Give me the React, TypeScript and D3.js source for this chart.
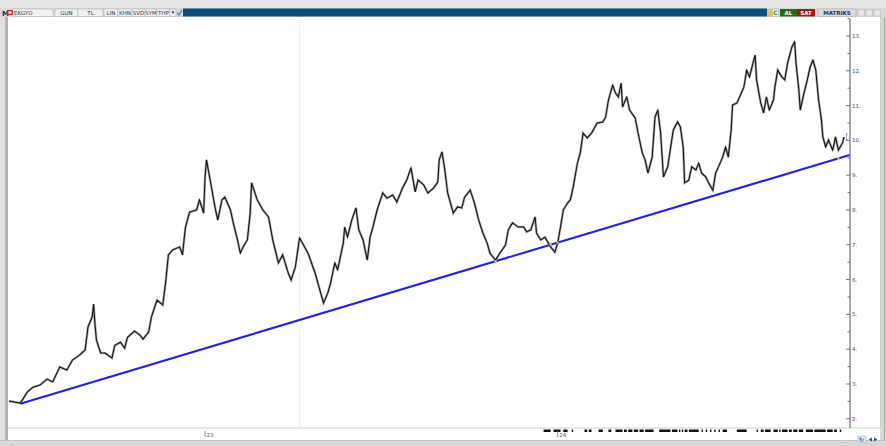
import React from "react";
import * as d3 from "d3";

// Trading-day index of each reading, and the close price
const days = [0, 8, 13, 17, 22, 27, 31, 36, 41, 45, 50, 54, 56, 59, 60, 61, 62, 65, 68, 73, 75, 79, 82, 84, 89, 93, 95, 99, 101, 105, 109, 111, 113, 116, 121, 123, 125, 128, 133, 135, 138, 139, 140, 143, 146, 148, 151, 153, 157, 159, 162, 164, 166, 169, 171, 172, 176, 180, 184, 187, 191, 194, 198, 200, 203, 206, 212, 217, 221, 223, 226, 228, 231, 233, 237, 238, 240, 243, 246, 248, 251, 254, 256, 258, 261, 265, 268, 272, 275, 279, 282, 285, 288, 290, 294, 297, 301, 304, 305, 307, 309, 311, 315, 318, 321, 323, 327, 330, 333, 336, 339, 341, 345, 348, 352, 354, 357, 361, 365, 367, 370, 373, 374, 377, 380, 384, 387, 389, 391, 393, 396, 398, 400, 403, 405, 407, 410, 413, 417, 421, 423, 425, 428, 430, 432, 434, 435, 438, 440, 444, 446, 449, 451, 453, 456, 458, 460, 462, 464, 467, 469, 471, 474, 476, 478, 479, 482, 484, 487, 489, 491, 494, 496, 499, 501, 503, 506, 508, 510, 512, 513, 516, 518, 521, 523, 525, 528, 529, 530, 533, 535, 537, 539, 542, 543, 545, 548, 550, 552, 555, 557, 558, 560, 561, 563, 566, 568, 570, 572, 574, 576, 577, 579, 581, 584, 586, 588, 591, 592];
const closes = [2.51, 2.45, 2.77, 2.91, 2.97, 3.14, 3.06, 3.49, 3.4, 3.69, 3.83, 3.98, 4.64, 4.93, 5.3, 4.7, 4.26, 3.89, 3.89, 3.75, 4.11, 4.2, 4.03, 4.34, 4.52, 4.4, 4.29, 4.49, 4.93, 5.41, 5.27, 5.9, 6.71, 6.85, 6.94, 6.71, 7.48, 7.94, 8.0, 8.29, 7.91, 8.95, 9.44, 8.78, 8.09, 7.71, 8.29, 8.37, 8.0, 7.63, 7.14, 6.76, 6.94, 7.14, 7.91, 8.78, 8.29, 8.0, 7.8, 7.14, 6.48, 6.71, 6.19, 5.99, 6.36, 7.2, 6.76, 6.19, 5.61, 5.33, 5.61, 5.9, 6.48, 6.28, 7.05, 7.51, 7.22, 7.71, 8.06, 7.43, 7.14, 6.56, 7.22, 7.51, 8.0, 8.49, 8.34, 8.43, 8.23, 8.63, 8.86, 9.21, 8.52, 8.86, 8.72, 8.49, 8.63, 8.8, 9.44, 9.67, 9.15, 8.49, 7.91, 8.09, 8.06, 8.37, 8.57, 8.2, 7.71, 7.34, 7.05, 6.76, 6.56, 6.76, 6.99, 7.43, 7.63, 7.51, 7.51, 7.37, 7.43, 7.8, 7.34, 7.14, 7.22, 6.94, 6.79, 7.05, 7.51, 8.0, 8.2, 8.29, 8.66, 9.35, 9.64, 10.21, 10.07, 10.21, 10.5, 10.53, 10.67, 11.16, 11.59, 11.36, 11.25, 11.65, 10.96, 11.25, 10.87, 10.64, 10.21, 9.64, 9.44, 9.06, 9.52, 10.67, 10.87, 10.21, 8.95, 9.24, 9.78, 10.3, 10.53, 10.39, 9.81, 8.78, 8.86, 9.24, 9.15, 9.35, 9.06, 8.95, 8.78, 8.57, 9.06, 9.24, 9.52, 9.81, 9.52, 10.3, 11.02, 11.07, 11.25, 11.53, 12.02, 11.82, 12.31, 12.45, 11.74, 11.07, 10.79, 11.25, 10.87, 11.16, 11.53, 12.02, 11.82, 11.74, 12.22, 12.68, 12.83, 12.22, 11.45, 10.87, 11.25, 11.74, 12.11, 12.31, 12.02, 11.16, 10.59, 10.1, 9.81, 10.01, 9.72, 10.1, 9.72, 9.93, 10.1];

const yTickValues = [2, 3, 4, 5, 6, 7, 8, 9, 10, 11, 12, 13];
const yMinorValues = [2.5, 3.5, 4.5, 5.5, 6.5, 7.5, 8.5, 9.5, 10.5, 11.5, 12.5, 13.5];
const xTickDays = [139, 389];
const xTickLabels = ["23", "24"];

const trendDays = [8, 596];
const trendValues = [2.43, 9.58];
const touchDays = [345, 384, 389, 588];

const cursorDay = 206;
const lastValue = 10.1;

const markerRanges: [number, number][] = [
  [379, 384], [386, 391], [393, 396], [399, 400], [408, 410], [411, 413], [418, 421], [425, 427],
  [430, 435], [436, 438], [439, 442], [443, 446], [447, 450], [451, 457], [461, 469], [470, 474],
  [475, 476], [477, 478], [479, 481], [482, 489], [491, 492], [494, 495], [497, 498], [500, 501],
  [503, 504], [506, 509], [516, 523], [530, 531], [533, 535], [536, 540], [542, 545], [546, 547],
  [548, 552], [553, 555], [556, 559], [560, 563], [565, 570], [571, 579], [580, 584], [585, 587],
  [589, 590],
];

const leftButtons = ["GUN", "TL", "LIN", "KHN", "SVD", "SYM", "THP"];
const symbolName = "EKGYO";

const W = 886;
const H = 446;

export default function App() {
  const x = d3.scaleLinear().domain([0, 592]).range([9, 844]);
  const y = d3.scaleLinear().domain([2, 13]).range([418.8, 36]);

  const pts = days.map((d, i) => ({ d, v: closes[i] }));
  const line = d3
    .line<{ d: number; v: number }>()
    .x((p) => x(p.d))
    .y((p) => y(p.v));
  const pricePath = line(pts) || "";

  const trendPath =
    d3
      .line<number>()
      .x((d) => x(d))
      .y((_, i) => y(trendValues[i]))(trendDays) || "";
  const trendScale = d3.scaleLinear().domain(trendDays).range(trendValues);

  const axisX = 850;
  const plotTop = 17;
  const plotBottom = 428;
  const font = "'DejaVu Sans', Arial, sans-serif";

  const btnX = [55, 78, 104, 118, 132, 145, 157];
  const btnW = [23, 25, 14, 14, 13, 12, 13];

  return (
    <div style={{ position: "absolute", left: 0, top: 0 }}>
      <svg width={W} height={H} style={{ display: "block" }} fontFamily={font}>
        <rect x={0} y={0} width={W} height={H} fill="#dcdcdc" />
        <rect x={0} y={0} width={W} height={8} fill="#e6e6e6" />
        <rect x={0} y={8} width={5} height={H - 8} fill="#e2e2e2" />
        <rect x={5} y={17} width={3} height={424} fill="#b4b4b4" />
        <rect x={8} y={plotTop} width={872} height={423} fill="#ffffff" />
        <line x1={8} x2={880} y1={plotBottom} y2={plotBottom} stroke="#b9dfb9" strokeWidth={1} />
        <line x1={880.5} x2={880.5} y1={plotTop} y2={plotBottom} stroke="#b9dfb9" strokeWidth={1} />
        <rect x={881} y={plotTop} width={5} height={H - plotTop} fill="#d6d6d6" />
        <line x1={884.5} x2={884.5} y1={8} y2={H} stroke="#a8a8a8" />
        <rect x={0} y={440} width={W} height={6} fill="#d8d8d8" />
        <line x1={0} x2={W} y1={440.5} y2={440.5} stroke="#c4c4c4" />
        <text x={10} y={445} fontSize={5} fill="#777">...</text>
        <text x={840} y={443} fontSize={5} fill="#999">..:..</text>
        <rect x={858} y={436} width={8} height={7} fill="#dfe7f3" stroke="#9aa" strokeWidth={0.5} />
        <text x={859} y={442} fontSize={6} fill="#2a5db0" fontWeight="bold">↻</text>
        <path d="M872,439.5 L868.5,437.5 L872,435.5 Z" fill="#2a4da0" transform="translate(0,2)" />
        <path d="M874,439.5 L877.5,437.5 L874,435.5 Z" fill="#2a4da0" transform="translate(0,2)" />

        <rect x={0} y={8} width={W} height={9} fill="#d9d9d9" />
        <text x={2} y={15.5} fontSize={7} fontWeight="bold" fill="#1c2a6a">M</text>
        <rect x={7} y={10} width={6} height={5} fill="#d32020" />
        <rect x={8.5} y={11.2} width={3} height={2.6} fill="#ffffff" />
        <rect x={13} y={9} width={40} height={7.5} fill="#f2f2f2" stroke="#a4a4a4" strokeWidth={0.5} />
        <text x={14} y={15} fontSize={5.5} fill="#333">{symbolName}</text>
        {leftButtons.map((b, i) => (
          <g key={b}>
            <rect x={btnX[i]} y={9} width={btnW[i]} height={7.5} fill="#f0f0f0" stroke="#a4a4a4" strokeWidth={0.5} />
            <text x={btnX[i] + btnW[i] / 2} y={15} fontSize={5.5} textAnchor="middle" fill="#333">{b}</text>
          </g>
        ))}
        <rect x={170} y={9} width={6} height={7.5} fill="#f0f0f0" stroke="#a4a4a4" strokeWidth={0.5} />
        <path d="M171.5,11.5 L174.5,11.5 L173,14 Z" fill="#333" />
        <path d="M177.5,13 L179,15 L182,10" stroke="#3a8ee0" strokeWidth={1.3} fill="none" />
        <rect x={183} y={8.5} width={584} height={8} fill="#0c4f7c" />
        <rect x={767} y={9} width={5} height={7.5} fill="#f0c040" />
        <rect x={772.5} y={9} width={6} height={7.5} fill="#f0f0f0" stroke="#a4a4a4" strokeWidth={0.5} />
        <text x={775.5} y={15} fontSize={6} textAnchor="middle" fontWeight="bold" fill="#2a8a2a">C</text>
        <rect x={780} y={9} width={17} height={7.5} fill="#1e6e1e" />
        <text x={788.5} y={15} fontSize={5.5} textAnchor="middle" fontWeight="bold" fill="#ffffff">AL</text>
        <rect x={797} y={9} width={18} height={7.5} fill="#a01818" />
        <text x={806} y={15} fontSize={5.5} textAnchor="middle" fontWeight="bold" fill="#ffffff">SAT</text>
        <rect x={818} y={9} width={38} height={7.5} fill="#dcdcdc" stroke="#a4a4a4" strokeWidth={0.5} />
        <text x={837} y={15} fontSize={5.5} textAnchor="middle" fontWeight="bold" fill="#24306e">MATRIKS</text>
        {[858, 866, 874].map((bx) => (
          <rect key={bx} x={bx} y={10} width={6.5} height={6} fill="#e8e8e8" stroke="#b0b0b0" strokeWidth={0.5} />
        ))}

        <line
          x1={x(cursorDay)}
          x2={x(cursorDay)}
          y1={plotTop + 1}
          y2={plotBottom}
          stroke="#f4ee9a"
          strokeWidth={1}
          strokeDasharray="1,1"
        />

        <path d={pricePath} fill="none" stroke="#a8a8a8" strokeWidth={2.4} strokeLinejoin="miter" strokeMiterlimit={3} />
        <path d={pricePath} fill="none" stroke="#111" strokeWidth={1.05} strokeLinejoin="miter" strokeMiterlimit={4} />

        <path d={trendPath} fill="none" stroke="#1a22ee" strokeWidth={2.1} />
        {touchDays.map((d) => (
          <rect key={d} x={x(d) - 1} y={y(trendScale(d)) - 1} width={2} height={2} fill="#f0e020" />
        ))}

        <line x1={axisX} x2={axisX} y1={plotTop + 2} y2={plotBottom} stroke="#555" strokeWidth={1} />
        {yMinorValues.map((v) => (
          <line key={v} x1={axisX - 2.5} x2={axisX} y1={y(v)} y2={y(v)} stroke="#555" strokeWidth={0.8} />
        ))}
        {yTickValues.map((v) => (
          <g key={v}>
            <line x1={axisX - 4} x2={axisX} y1={y(v)} y2={y(v)} stroke="#555" strokeWidth={0.8} />
            <text x={axisX + 2} y={y(v) + 2} fontSize={5.5} fill="#3a4a6a">{`${v}.`}</text>
          </g>
        ))}
        <path
          d={`M${axisX - 2},${y(lastValue) - 3} L${axisX - 3.5},${y(lastValue) - 3} L${axisX - 3.5},${y(lastValue) + 3} L${axisX - 2},${y(lastValue) + 3}`}
          fill="none"
          stroke="#6a7aa8"
          strokeWidth={0.7}
        />

        {markerRanges.map(([a, b], i) => (
          <rect key={i} x={x(a)} y={429.5} width={Math.max(1, x(b) - x(a))} height={2.5} fill="#111" />
        ))}
        {xTickDays.map((d, i) => (
          <g key={d}>
            <line x1={x(d)} x2={x(d)} y1={431} y2={437} stroke="#777" strokeWidth={0.8} />
            <text x={x(d) + 1.5} y={437} fontSize={5.5} fill="#555">{xTickLabels[i]}</text>
          </g>
        ))}
      </svg>
    </div>
  );
}
